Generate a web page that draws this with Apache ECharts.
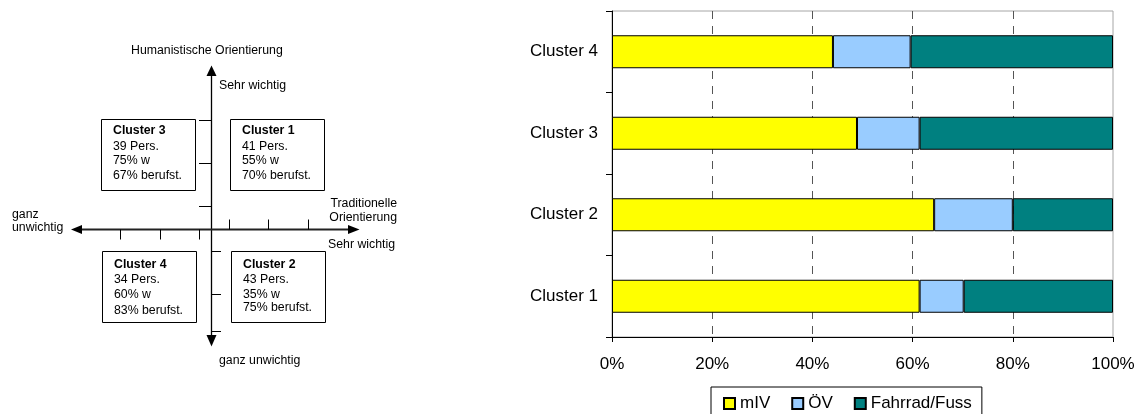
<!DOCTYPE html>
<html>
<head>
<meta charset="utf-8">
<title>Cluster – Verkehrsmittelwahl</title>
<script src="https://cdn.jsdelivr.net/npm/echarts@6/dist/echarts.min.js"></script>
<style>
  html, body { margin: 0; padding: 0; background: #fff; }
  #chart { width: 1147px; height: 414px; }
</style>
</head>
<body>
<div id="chart"></div>
<script>
// ---- data ---------------------------------------------------------------
// Bar chart: share of trips per mode (percent), bottom-to-top category order
const categories = ['Cluster 1', 'Cluster 2', 'Cluster 3', 'Cluster 4'];
const modeNames = ['mIV', 'ÖV', 'Fahrrad/Fuss'];
const mivShare = [61.4, 64.3, 48.9, 44.1];
const oevShare = [8.8, 15.7, 12.5, 15.5];
const bikeWalkShare = [29.8, 20.0, 38.6, 40.4];
const xTicks = [0, 20, 40, 60, 80, 100];

// Quadrant diagram: cluster profiles
const profileNames = ['Cluster 1', 'Cluster 2', 'Cluster 3', 'Cluster 4'];
const profilePersons = [41, 43, 39, 34];
const profileWomen = [55, 35, 75, 60];
const profileEmployed = [70, 75, 67, 83];

// Axis captions of the quadrant diagram
const captionVertical = 'Humanistische Orientierung';
const captionHorizontal = ['Traditionelle', 'Orientierung'];
const captionHigh = 'Sehr wichtig';
const captionLowLeft = ['ganz', 'unwichtig'];
const captionLowBottom = 'ganz unwichtig';

// ---- styling ------------------------------------------------------------
const FONT = '"Liberation Sans", Arial, Helvetica, sans-serif';
const modeColors = ['#FFFF00', '#99CCFF', '#008080'];
const DIAGRAM_FONT_SIZE = 12.3;

// ---- quadrant diagram (drawn with graphic elements) ----------------------
const cx = 211.5, cy = 229.5;          // crossing point of the two axes
const black = '#000';

function txt(text, x, y, opts) {
  opts = opts || {};
  return {
    type: 'text',
    silent: true,
    style: {
      text: text, x: x, y: y,
      fontFamily: FONT,
      fontSize: opts.size || DIAGRAM_FONT_SIZE,
      fontWeight: opts.bold ? 'bold' : 'normal',
      fill: '#000',
      align: opts.align || 'left',
      textAlign: opts.align || 'left',
      verticalAlign: 'middle',
      textVerticalAlign: 'middle'
    }
  };
}
function seg(x1, y1, x2, y2, w, color) {
  return {
    type: 'line', silent: true,
    shape: { x1: x1, y1: y1, x2: x2, y2: y2 },
    style: { stroke: color || black, lineWidth: w || 1 }
  };
}
function tri(points) {
  return { type: 'polygon', silent: true, shape: { points: points }, style: { fill: black } };
}

const diagram = [];
// axes
diagram.push(seg(cx, 74, cx, 338, 1.3));
diagram.push(tri([[cx, 65.5], [cx - 5, 76], [cx + 5, 76]]));
diagram.push(tri([[cx, 346.5], [cx - 5, 335], [cx + 5, 335]]));
diagram.push(seg(80, cy, 350, cy, 2, '#222'));
diagram.push(tri([[71, cy], [82, cy - 4.5], [82, cy + 4.5]]));
diagram.push(tri([[359.5, cy], [348, cy - 4.5], [348, cy + 4.5]]));

// tick marks
[120.5, 163.5, 206.5].forEach(function (y) { diagram.push(seg(199, y, cx, y, 1)); });
[251.5, 294.5, 331.5].forEach(function (y) { diagram.push(seg(cx, y, 221, y, 1)); });
[120.5, 160.5, 199.5].forEach(function (x) { diagram.push(seg(x, cy, x, 239.5, 1)); });
[229.5, 268.5, 308.5].forEach(function (x) { diagram.push(seg(x, 219.5, x, cy, 1)); });

// captions
diagram.push(txt(captionVertical, 131, 51));
diagram.push(txt(captionHigh, 219, 86));
diagram.push(txt(captionHorizontal[0], 397, 203.5, { align: 'right' }));
diagram.push(txt(captionHorizontal[1], 397, 217.5, { align: 'right' }));
diagram.push(txt(captionHigh, 395, 244.5, { align: 'right' }));
diagram.push(txt(captionLowLeft[0], 12, 215));
diagram.push(txt(captionLowLeft[1], 12, 228));
diagram.push(txt(captionLowBottom, 219, 361));

// cluster boxes: quadrant placement per cluster (1: upper right, 2: lower right,
// 3: upper left, 4: lower left)
const boxPlace = [
  { x: 230.5, y: 119.5, lines: [131, 146.5, 160.5, 175.5] },
  { x: 231.5, y: 251.5, lines: [265, 280, 294.5, 308] },
  { x: 101.5, y: 119.5, lines: [131, 146.5, 160.5, 175.5] },
  { x: 102.5, y: 251.5, lines: [265, 280, 294.5, 310.5] }
];
const boxW = 94, boxH = 71;
profileNames.forEach(function (name, i) {
  const p = boxPlace[i];
  diagram.push({
    type: 'rect', silent: true,
    shape: { x: p.x, y: p.y, width: boxW, height: boxH },
    style: { fill: '#fff', stroke: black, lineWidth: 1 }
  });
  const tx = p.x + 11.5;
  diagram.push(txt(name, tx, p.lines[0], { bold: true }));
  diagram.push(txt(profilePersons[i] + ' Pers.', tx, p.lines[1]));
  diagram.push(txt(profileWomen[i] + '% w', tx, p.lines[2]));
  diagram.push(txt(profileEmployed[i] + '% berufst.', tx, p.lines[3]));
});

// ---- stacked bar chart --------------------------------------------------
const seriesValues = [mivShare, oevShare, bikeWalkShare];

const option = {
  animation: false,
  backgroundColor: '#fff',
  textStyle: { fontFamily: FONT },
  grid: {
    left: 612, right: 34, top: 11, bottom: 77,
    containLabel: false,
    outerBoundsMode: 'none',
    show: true,
    borderColor: '#a6a6a6',
    borderWidth: 1,
    backgroundColor: 'transparent'
  },
  legend: {
    data: modeNames,
    left: 711, top: 387,
    orient: 'horizontal',
    itemWidth: 11, itemHeight: 11, itemGap: 21,
    padding: [8, 10, 8, 12],
    borderColor: '#000', borderWidth: 1,
    icon: 'rect',
    textStyle: { fontFamily: FONT, fontSize: 17, color: '#000' }
  },
  xAxis: {
    type: 'value',
    min: xTicks[0], max: xTicks[xTicks.length - 1],
    interval: xTicks[1] - xTicks[0],
    axisLine: { show: true, lineStyle: { color: '#000', width: 1 } },
    axisTick: { show: true, length: 5, lineStyle: { color: '#000' } },
    axisLabel: {
      formatter: '{value}%', fontFamily: FONT, fontSize: 17, color: '#000', margin: 19
    },
    splitLine: {
      show: true, showMinLine: false, showMaxLine: false,
      lineStyle: { color: '#555', width: 1, type: [8, 7] }
    }
  },
  yAxis: {
    type: 'category',
    data: categories,
    axisLine: { show: true, lineStyle: { color: '#000', width: 1 } },
    axisTick: { show: true, length: 6, lineStyle: { color: '#000' } },
    axisLabel: { fontFamily: FONT, fontSize: 17, color: '#000', margin: 14 },
    splitLine: { show: false }
  },
  series: modeNames.map(function (name, i) {
    return {
      name: name,
      type: 'bar',
      stack: 'modes',
      barWidth: 33,
      data: seriesValues[i],
      itemStyle: { color: modeColors[i], borderColor: '#000', borderWidth: 1 },
      emphasis: { disabled: true }
    };
  }),
  graphic: { elements: diagram }
};

const chart = echarts.init(document.getElementById('chart'), null, { renderer: 'canvas' });
chart.setOption(option);
</script>
</body>
</html>
